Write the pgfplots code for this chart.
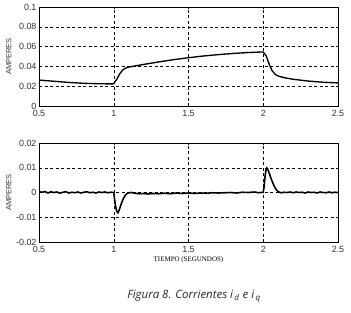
\documentclass[border=0pt]{standalone}
\usepackage{pgfplots}
\pgfplotsset{compat=1.18}
\usepackage{fontspec}
\setmainfont{Liberation Serif}
\newfontfamily\arialf{Liberation Sans}
\newfontfamily\capf{Open Sans}
\begin{document}
\begin{tikzpicture}
\useasboundingbox (0bp,0bp) rectangle (351bp,-313bp);
\pgfplotsset{
  every axis/.style={
    scale only axis, width=299bp, height=99bp,
    xmin=0.5, xmax=2.5,
    xtick={0.5,1,1.5,2,2.5},
    xticklabels={0.5,1,1.5,2,2.5},
    grid=major,
    major grid style={black, dash pattern=on 3bp off 2.5bp, line width=0.5pt},
    axis line style={black, line width=0.6pt},
    tick style={black, line width=0.5pt},
    major tick length=2bp,
    tick align=inside,
    ticklabel style={font=\arialf\fontsize{9}{10}\selectfont, text=black!80},
    /pgf/number format/assume math mode=true,
    scaled ticks=false,
    ylabel style={font=\arialf\fontsize{7.5}{8}\selectfont, text=black!80},
    xticklabel style={yshift=-0.5bp},
    yticklabel style={xshift=1bp},
  }
}
\begin{axis}[anchor=north west, at={(39bp,-7bp)},
  ymin=0, ymax=0.1, ytick={0,0.02,0.04,0.06,0.08,0.1},
  yticklabels={0,0.02,0.04,0.06,0.08,0.1},
  ylabel={AMPERES}, ylabel style={at={(axis description cs:-0.08,0.5)}}]
\addplot[black, line width=1.35pt] coordinates {
(0.5,0.0262) (0.6,0.0250) (0.7,0.0238) (0.8,0.0229) (0.9,0.0225) (0.99,0.0223)
(1.0,0.0226) (1.02,0.027) (1.04,0.0325) (1.06,0.0365) (1.08,0.0383) (1.1,0.0393)
(1.2,0.0420) (1.3,0.0445) (1.4,0.0468) (1.5,0.0488) (1.6,0.0505) (1.7,0.0519)
(1.8,0.0531) (1.9,0.0540) (1.98,0.0545) (2.0,0.0545) (2.02,0.0505) (2.04,0.0420)
(2.06,0.0355) (2.08,0.0320) (2.1,0.0302) (2.15,0.0283) (2.2,0.0270) (2.3,0.0252)
(2.4,0.0240) (2.5,0.0233)
};
\end{axis}
\begin{axis}[anchor=north west, at={(39bp,-143bp)},
  ymin=-0.02, ymax=0.02, ytick={-0.02,-0.01,0,0.01,0.02},
  yticklabels={-0.02,-0.01,0,0.01,0.02},
  ylabel={AMPERES}, ylabel style={at={(axis description cs:-0.08,0.5)}},
  xlabel={TIEMPO (SEGUNDOS)},
  xlabel style={font=\fontsize{7}{8}\selectfont, yshift=3bp}]
\addplot[black, line width=1.6pt] coordinates {
(0.5,0.0003) (0.52,0.0001) (0.54,0.0004) (0.56,-0.0002) (0.58,0.0003) (0.6,0.0000)
(0.62,0.0002) (0.64,-0.0003) (0.66,0.0001) (0.68,0.0003) (0.7,-0.0002) (0.72,0.0001)
(0.74,-0.0001) (0.76,0.0002) (0.78,-0.0002) (0.8,0.0001) (0.82,0.0003) (0.84,-0.0001)
(0.86,0.0001) (0.88,-0.0002) (0.9,0.0002) (0.92,0.0000) (0.94,0.0002) (0.96,-0.0001)
(0.98,0.0001) (1.0,0.0000) (1.005,-0.0025) (1.012,-0.0055) (1.02,-0.0075)
(1.028,-0.0082) (1.036,-0.0072) (1.045,-0.0055) (1.055,-0.0038) (1.065,-0.0024)
(1.075,-0.0013) (1.085,-0.0006) (1.1,-0.0001) (1.12,0.0000) (1.14,-0.0003)
(1.17,-0.0005) (1.2,-0.0004) (1.23,-0.0006) (1.26,-0.0004) (1.3,-0.0005)
(1.34,-0.0003) (1.38,-0.0005) (1.42,-0.0002) (1.46,-0.0004) (1.5,-0.0002)
(1.54,-0.0004) (1.58,-0.0002) (1.62,-0.0003) (1.66,-0.0001) (1.7,-0.0002)
(1.74,-0.0001) (1.78,0.0000) (1.82,-0.0002) (1.86,0.0001) (1.9,0.0000) (1.94,0.0002)
(1.97,-0.0001) (2.0,0.0001) (2.006,0.0025) (2.012,0.0065) (2.018,0.0090)
(2.024,0.0099) (2.03,0.0094) (2.04,0.0078) (2.05,0.0060) (2.06,0.0045)
(2.07,0.0030) (2.08,0.0018) (2.09,0.0009) (2.1,0.0003) (2.12,-0.0001)
(2.14,0.0001) (2.16,0.0000) (2.18,0.0002) (2.2,-0.0001) (2.22,0.0002) (2.24,0.0000)
(2.26,0.0001) (2.28,-0.0002) (2.3,0.0002) (2.32,0.0000) (2.34,0.0001) (2.36,-0.0002)
(2.38,0.0002) (2.4,0.0000) (2.42,-0.0001) (2.44,0.0002) (2.46,-0.0001) (2.48,0.0001)
(2.5,0.0000)
};
\end{axis}
\node[font=\capf\itshape\fontsize{11.5}{13}\selectfont, text=black!85] at (194bp,-296bp) {Figura 8. Corrientes \textit{i}\textsubscript{\,d} e \textit{i}\textsubscript{\,q}};
\end{tikzpicture}
\end{document}
